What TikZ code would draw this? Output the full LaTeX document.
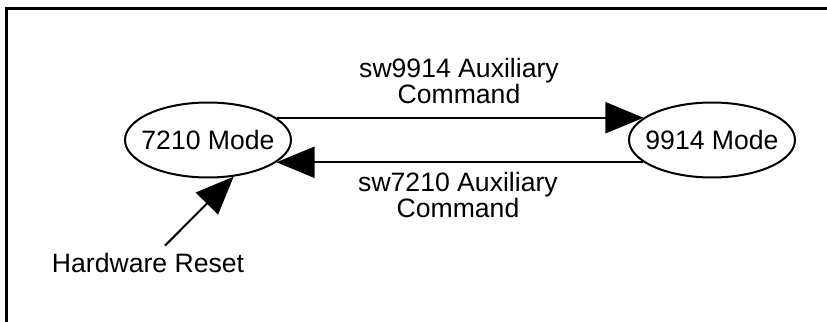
\documentclass[tikz,border=0pt]{standalone}
\usepackage{fontspec}
\setmainfont{Liberation Sans}
\usetikzlibrary{arrows.meta,shapes.geometric}

\begin{document}
\begin{tikzpicture}[x=0.5pt,y=-0.5pt,>={Triangle[length=19pt,width=15.5pt]}]
		\tikzset{
			every node/.style={font=\fontsize{13.3}{12.7}\selectfont,align=center},
			mode/.style={draw,ellipse,line width=1pt,inner xsep=-4pt,inner ysep=0pt,
				minimum width=83pt,minimum height=37.5pt}
		}
		\useasboundingbox (0,0) rectangle (827,322);
		% frame
		\draw[line width=1.5pt] (6.5,322) -- (6.5,8.5) -- (827,8.5);
		\node[mode](m7210) at (208,140) {7210 Mode};
		\node[mode](m9914) at (712,140) {9914 Mode};
		\node(text9914) at (459,81) {sw9914 Auxiliary\\Command};
		\node(text7210) at (458,195) {sw7210 Auxiliary\\Command};
		\node(reset)[anchor=base] at (148,272) {Hardware Reset};
		\draw[->,line width=1pt] (m7210.18) -- (m9914.162);
		\draw[->,line width=1pt] (m9914.198) -- (m7210.-18);
		\draw[->,line width=1pt] ([xshift=8.5pt]reset.north) -- (m7210.-55);
\end{tikzpicture}
\end{document}
